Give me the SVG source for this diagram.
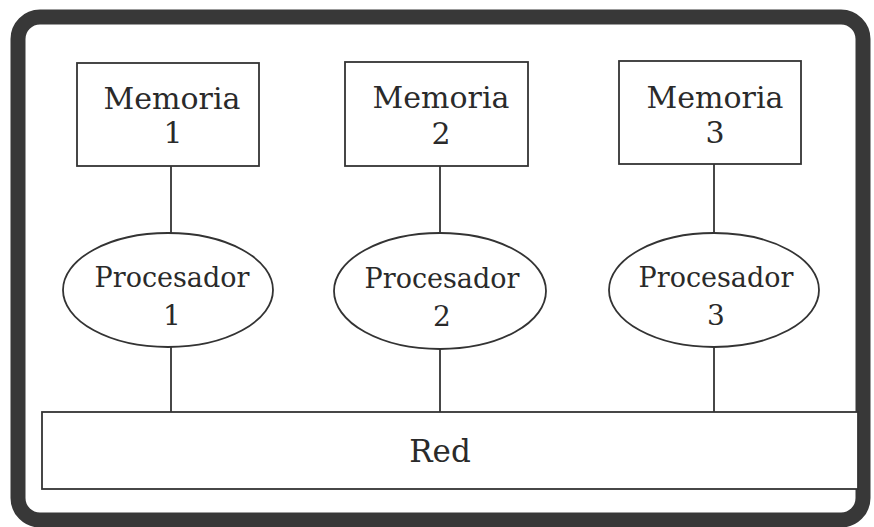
<svg xmlns="http://www.w3.org/2000/svg" width="874" height="527" viewBox="0 0 874 527">
  <style>
    .box { fill: #ffffff; stroke: #333333; stroke-width: 1.8; }
    .wire { stroke: #333333; stroke-width: 1.8; fill: none; }
    .lbl { font-family: "DejaVu Serif", "Liberation Serif", serif; fill: #2a2a2a; text-anchor: middle; }
    .mem { font-size: 30px; }
    .cpu { font-size: 27px; }
    .num { font-size: 28px; }
    .net { font-size: 31px; }
  </style>
  <rect x="0" y="0" width="874" height="527" fill="#ffffff"/>
  <!-- outer frame -->
  <rect x="18" y="17" width="845" height="503" rx="22" ry="22" fill="#ffffff" stroke="#383838" stroke-width="15"/>

  <g id="connectors">
    <line class="wire" x1="171" y1="166" x2="171" y2="233"/>
    <line class="wire" x1="440" y1="166" x2="440" y2="234"/>
    <line class="wire" x1="714" y1="164" x2="714" y2="233"/>
    <line class="wire" x1="171" y1="347" x2="171" y2="412"/>
    <line class="wire" x1="440" y1="349" x2="440" y2="412"/>
    <line class="wire" x1="714" y1="347" x2="714" y2="412"/>
  </g>

  <g id="mem1">
    <rect class="box" x="77" y="63" width="182" height="103"/>
    <text class="lbl mem" x="172" y="109">Memoria</text>
    <text class="lbl mem" x="173" y="143">1</text>
  </g>
  <g id="mem2">
    <rect class="box" x="345" y="62" width="183" height="104"/>
    <text class="lbl mem" x="441" y="108">Memoria</text>
    <text class="lbl mem" x="441" y="144">2</text>
  </g>
  <g id="mem3">
    <rect class="box" x="619" y="61" width="182" height="103"/>
    <text class="lbl mem" x="715" y="108">Memoria</text>
    <text class="lbl mem" x="715" y="143">3</text>
  </g>

  <g id="cpu1">
    <ellipse class="box" cx="168" cy="290" rx="105" ry="57"/>
    <text class="lbl cpu" x="172" y="287">Procesador</text>
    <text class="lbl num" x="172" y="325">1</text>
  </g>
  <g id="cpu2">
    <ellipse class="box" cx="440" cy="291" rx="106" ry="58"/>
    <text class="lbl cpu" x="442" y="288">Procesador</text>
    <text class="lbl num" x="442" y="326">2</text>
  </g>
  <g id="cpu3">
    <ellipse class="box" cx="714" cy="290" rx="105" ry="57"/>
    <text class="lbl cpu" x="716" y="287">Procesador</text>
    <text class="lbl num" x="716" y="325">3</text>
  </g>

  <g id="red">
    <rect class="box" x="42" y="412" width="816" height="77"/>
    <text class="lbl net" x="440" y="462">Red</text>
  </g>
</svg>
